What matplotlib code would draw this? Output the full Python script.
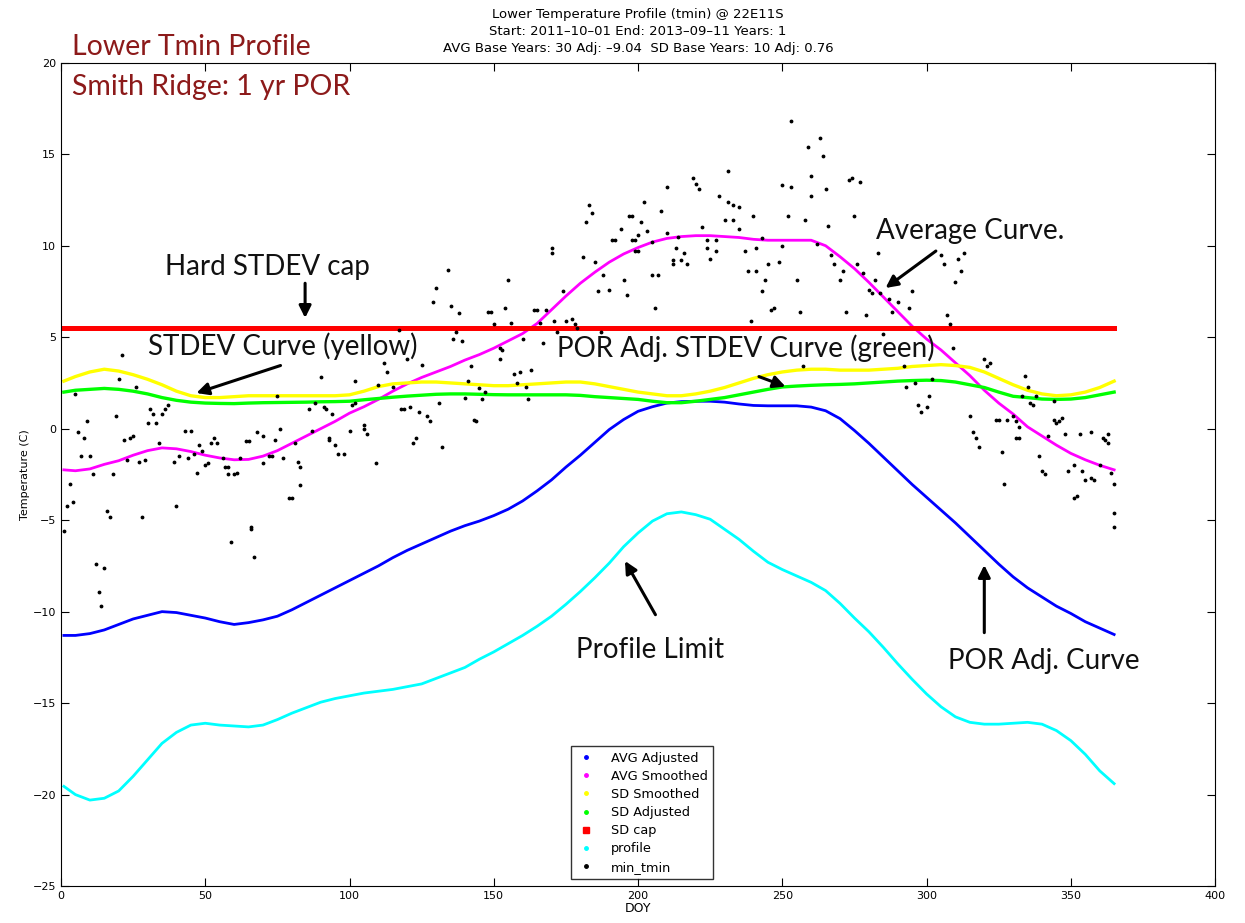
import numpy as np
import matplotlib.pyplot as plt
from matplotlib.lines import Line2D

# 曲线取样点 (DOY)
curve_days = [1, 5, 10, 15, 20, 25, 30, 35, 40, 45,
              50, 55, 60, 65, 70, 75, 80, 85, 90, 95,
              100, 105, 110, 115, 120, 125, 130, 135, 140, 145,
              150, 155, 160, 165, 170, 175, 180, 185, 190, 195,
              200, 205, 210, 215, 220, 225, 230, 235, 240, 245,
              250, 255, 260, 265, 270, 275, 280, 285, 290, 295,
              300, 305, 310, 315, 320, 325, 330, 335, 340, 345,
              350, 355, 360, 365]

profile = [-19.55, -20.0, -20.3, -20.2, -19.8, -19.0, -18.1, -17.2, -16.6, -16.2,
           -16.1, -16.2, -16.25, -16.3, -16.2, -15.9, -15.55, -15.25, -14.95, -14.75,
           -14.6, -14.45, -14.35, -14.25, -14.1, -13.95, -13.65, -13.35, -13.05, -12.6,
           -12.2, -11.75, -11.3, -10.8, -10.25, -9.6, -8.9, -8.15, -7.35, -6.45,
           -5.7, -5.05, -4.65, -4.55, -4.7, -4.95, -5.5, -6.05, -6.7, -7.3,
           -7.7, -8.05, -8.4, -8.85, -9.55, -10.35, -11.1, -11.95, -12.85, -13.7,
           -14.5, -15.2, -15.75, -16.05, -16.15, -16.15, -16.1, -16.05, -16.15, -16.5,
           -17.05, -17.8, -18.7, -19.4]

avg_adjusted = [-11.3, -11.3, -11.2, -11.0, -10.7, -10.4, -10.2, -10.0, -10.05, -10.2,
                -10.35, -10.55, -10.7, -10.6, -10.45, -10.25, -9.9, -9.5, -9.1, -8.7,
                -8.3, -7.9, -7.5, -7.05, -6.65, -6.3, -5.95, -5.6, -5.3, -5.05,
                -4.75, -4.4, -3.95, -3.4, -2.8, -2.1, -1.45, -0.75, -0.05, 0.5,
                0.95, 1.2, 1.4, 1.48, 1.5, 1.5, 1.45, 1.35, 1.27, 1.25,
                1.25, 1.25, 1.18, 0.98, 0.55, -0.1, -0.8, -1.55, -2.3, -3.05,
                -3.75, -4.45, -5.15, -5.9, -6.65, -7.4, -8.1, -8.7, -9.2, -9.7,
                -10.1, -10.55, -10.9, -11.25]

avg_smoothed = [-2.25, -2.3, -2.2, -1.95, -1.75, -1.45, -1.2, -1.05, -1.1, -1.25,
                -1.45, -1.6, -1.7, -1.68, -1.5, -1.2, -0.8, -0.4, 0.0, 0.4,
                0.85, 1.2, 1.6, 2.05, 2.45, 2.8, 3.1, 3.4, 3.75, 4.05,
                4.4, 4.8, 5.2, 5.75, 6.5, 7.25, 7.95, 8.55, 9.1, 9.55,
                9.9, 10.2, 10.4, 10.5, 10.55, 10.55, 10.5, 10.45, 10.35, 10.3,
                10.3, 10.3, 10.3, 10.0, 9.4, 8.75, 8.0, 7.2, 6.4, 5.6,
                4.9, 4.3, 3.6, 2.9, 2.1, 1.4, 0.8, 0.1, -0.4, -0.9,
                -1.35, -1.7, -2.0, -2.25]

sd_smoothed = [2.6, 2.85, 3.1, 3.25, 3.15, 2.95, 2.7, 2.4, 2.05, 1.8,
               1.7, 1.7, 1.75, 1.8, 1.8, 1.8, 1.8, 1.8, 1.8, 1.8,
               1.85, 2.05, 2.3, 2.45, 2.5, 2.55, 2.55, 2.5, 2.45, 2.4,
               2.35, 2.35, 2.4, 2.45, 2.5, 2.55, 2.55, 2.45, 2.3, 2.15,
               2.0, 1.9, 1.8, 1.8, 1.9, 2.05, 2.25, 2.5, 2.75, 2.95,
               3.1, 3.2, 3.25, 3.25, 3.2, 3.2, 3.2, 3.25, 3.3, 3.4,
               3.45, 3.5, 3.45, 3.35, 3.1, 2.75, 2.4, 2.1, 1.9, 1.8,
               1.85, 2.0, 2.25, 2.6]

sd_adjusted = [2.0, 2.1, 2.15, 2.2, 2.15, 2.05, 1.9, 1.7, 1.55, 1.45,
               1.4, 1.38, 1.37, 1.4, 1.42, 1.43, 1.44, 1.45, 1.47, 1.48,
               1.5, 1.58, 1.65, 1.72, 1.78, 1.83, 1.88, 1.9, 1.9, 1.88,
               1.86, 1.85, 1.85, 1.85, 1.85, 1.85, 1.82, 1.75, 1.7, 1.65,
               1.6, 1.5, 1.42, 1.42, 1.5, 1.6, 1.7, 1.85, 2.0, 2.15,
               2.28, 2.33, 2.37, 2.4, 2.42, 2.45, 2.5, 2.55, 2.6, 2.63,
               2.65, 2.63, 2.55, 2.4, 2.25, 2.0, 1.77, 1.7, 1.62, 1.6,
               1.62, 1.7, 1.85, 2.0]

sd_cap = [5.5, 5.5]
cap_days = [1, 365]

# 日最低温度散点 (DOY, tmin)
tmin_points = [
    (1, -5.6), (2, -4.2), (3, -3.0), (4, -4.0), (5, 1.9), (6, -0.2), (7, -1.5), (8, -0.5), (9, 0.4),
    (10, -1.5), (11, -2.5), (12, -7.4), (13, -8.9), (14, -9.7), (15, -7.6), (16, -4.5), (17, -4.8),
    (18, -2.5), (19, 0.7), (20, 2.7), (21, 4.0), (22, -0.6), (23, -1.7), (24, -0.5), (25, -0.4),
    (26, 2.3), (27, -1.8), (28, -4.8), (29, -1.7), (30, 0.3), (31, 1.1), (32, 0.8), (33, 0.3),
    (34, -0.8), (35, 0.8), (36, 1.1), (37, 1.3), (39, -1.8), (40, -4.2), (41, -1.5), (43, -0.1),
    (44, -1.6), (45, -0.1), (46, -1.4), (47, -2.4), (48, -0.9), (49, -1.2), (50, -2.0), (51, -1.9),
    (52, -0.8), (53, -0.5), (54, -0.8), (56, -1.6), (57, -2.1), (58, -2.1), (58, -2.5), (59, -6.2),
    (60, -2.5), (61, -2.4), (62, -1.6), (64, -0.7), (65, -0.7), (66, -5.5), (66, -5.4), (67, -7.0),
    (68, -0.2), (70, -0.4), (70, -1.9), (72, -1.5), (73, -1.5), (74, -0.6), (75, 1.8), (76, 0.0),
    (77, -1.6), (79, -3.8), (80, -3.8), (81, -0.8), (82, -1.8), (83, -2.1), (83, -3.1), (86, 1.1),
    (87, -0.1), (88, 1.4), (90, 2.8), (91, 1.2), (92, 1.1), (93, -0.5), (93, -0.6), (94, 0.8),
    (95, -0.9), (96, -1.4), (98, -1.4), (100, -0.1), (101, 1.3), (102, 1.4), (102, 2.6), (105, 0.2),
    (105, 0.0), (106, -0.3), (109, -1.9), (110, 2.4), (112, 3.6), (113, 3.1), (115, 2.3), (117, 5.4),
    (118, 1.1), (119, 1.1), (120, 3.8), (121, 1.2), (122, -0.8), (123, -0.5), (124, 0.9), (125, 3.5),
    (127, 0.7), (128, 0.4), (129, 6.9), (130, 7.7), (131, 1.4), (132, -1.0), (134, 8.7), (135, 6.7),
    (136, 4.9), (137, 5.3), (138, 6.3), (139, 4.8), (140, 1.7), (141, 2.6), (142, 3.4), (143, 0.5),
    (144, 0.4), (145, 2.2), (146, 1.6), (147, 2.0), (148, 6.4), (149, 6.4), (150, 5.7), (152, 4.4),
    (152, 3.8), (153, 4.3), (154, 6.6), (155, 8.1), (156, 5.8), (157, 3.0), (158, 2.5), (159, 3.1),
    (160, 4.9), (161, 2.3), (162, 1.6), (163, 3.2), (164, 6.5), (165, 6.5), (166, 5.8), (167, 4.7),
    (168, 6.5), (170, 9.9), (170, 9.6), (171, 5.9), (172, 5.3), (174, 7.5), (175, 5.9), (177, 6.0),
    (178, 5.7), (179, 5.5), (181, 9.4), (182, 11.3), (183, 12.2), (184, 11.8), (185, 9.1), (186, 7.5),
    (187, 5.3), (188, 8.4), (190, 7.6), (191, 10.3), (192, 10.3), (194, 10.9), (195, 8.1), (196, 7.3),
    (197, 11.6), (198, 10.3), (198, 11.6), (199, 9.7), (199, 10.3), (200, 9.7), (200, 10.6),
    (201, 11.3), (202, 12.4), (203, 10.8), (205, 10.2), (205, 8.4), (206, 6.6), (207, 8.4),
    (208, 11.9), (210, 13.2), (210, 10.7), (212, 9.0), (212, 9.2), (213, 9.9), (214, 10.5),
    (215, 9.2), (216, 9.6), (217, 9.0), (219, 13.7), (220, 13.4), (221, 13.1), (222, 11.0),
    (224, 10.3), (224, 9.9), (225, 9.3), (227, 10.3), (227, 9.7), (228, 12.7), (230, 11.4),
    (231, 14.1), (231, 12.4), (233, 11.4), (233, 12.2), (235, 12.1), (235, 10.9), (237, 9.7),
    (238, 8.6), (239, 5.9), (240, 11.6), (241, 9.9), (241, 8.6), (243, 10.4), (243, 7.5), (244, 8.1),
    (245, 9.0), (246, 6.5), (247, 6.6), (249, 9.1), (250, 10.0), (250, 13.3), (252, 11.6),
    (253, 16.8), (253, 13.2), (255, 8.1), (256, 6.4), (257, 3.4), (258, 11.4), (259, 15.4),
    (260, 13.8), (260, 12.7), (262, 10.1), (263, 15.9), (264, 14.9), (265, 13.1), (266, 11.1),
    (267, 9.5), (268, 9.0), (270, 8.1), (271, 8.6), (272, 6.4), (273, 13.6), (274, 13.7), (275, 11.6),
    (276, 9.0), (277, 13.5), (278, 8.5), (279, 6.2), (280, 7.6), (281, 7.4), (282, 8.1), (283, 9.6),
    (284, 7.4), (285, 5.2), (287, 7.1), (288, 6.4), (290, 6.9), (292, 3.4), (293, 2.3), (294, 6.6),
    (295, 7.5), (296, 2.5), (297, 1.3), (298, 0.9), (300, 1.2), (301, 1.8), (302, 2.7), (305, 9.5),
    (306, 9.0), (307, 6.2), (308, 5.7), (309, 4.4), (310, 8.0), (311, 9.3), (312, 8.6), (313, 9.6),
    (315, 0.7), (316, -0.2), (317, -0.5), (318, -1.0), (320, 3.8), (321, 3.4), (322, 3.6), (324, 0.5),
    (325, 0.5), (326, -1.3), (327, -3.0), (328, 0.5), (330, 0.7), (331, 0.4), (331, -0.5), (332, -0.5),
    (332, 0.1), (333, 1.8), (334, 2.9), (335, 2.3), (336, 1.4), (337, 1.3), (338, 1.8), (339, -1.5),
    (340, -2.3), (341, -2.5), (342, -0.4), (344, 1.5), (344, 0.5), (345, 0.3), (346, 0.4), (347, 0.6),
    (348, -0.3), (349, -2.3), (351, -3.8), (351, -2.0), (352, -3.7), (353, -0.3), (354, -2.3),
    (355, -2.8), (357, -0.2), (357, -2.7), (358, -2.8), (360, -2.0), (361, -0.5), (362, -0.6),
    (363, -0.8), (363, -0.3), (364, -2.4), (365, -3.0), (365, -4.6), (365, -5.4),
]
tmin_days = [p[0] for p in tmin_points]
tmin_vals = [p[1] for p in tmin_points]

plt.rcParams['font.family'] = ['DejaVu Sans']

fig = plt.figure(figsize=(12.45, 9.23), dpi=100)
ax = fig.add_axes([0.049, 0.04, 0.927, 0.892])

ax.plot(curve_days, avg_adjusted, color='blue', lw=2.0)
ax.plot(curve_days, avg_smoothed, color='magenta', lw=2.0)
ax.plot(curve_days, sd_smoothed, color='yellow', lw=2.4)
ax.plot(curve_days, sd_adjusted, color='lime', lw=2.4)
ax.plot(cap_days, sd_cap, color='red', lw=3.6)
ax.plot(curve_days, profile, color='cyan', lw=2.0)
ax.plot(tmin_days, tmin_vals, ls='none', marker='.', color='black', ms=3.5)

ax.set_xlim(0, 400)
ax.set_ylim(-25, 20)
ax.set_xticks(range(0, 401, 50))
ax.set_yticks(range(-25, 21, 5))
ax.tick_params(direction='in', top=True, right=True, labelsize=8, length=6)
ax.set_xlabel('DOY', fontsize=9, labelpad=1)
ax.set_ylabel('Temperature (C)', fontsize=8, labelpad=2)

ax.set_title('Lower Temperature Profile (tmin) @ 22E11S\n'
             'Start: 2011\u201310\u201301 End: 2013\u201309\u201311 Years: 1\n'
             'AVG Base Years: 30 Adj: \u20139.04  SD Base Years: 10 Adj: 0.76',
             fontsize=9.5, linespacing=1.4, pad=8)

labels = ['AVG Adjusted', 'AVG Smoothed', 'SD Smoothed', 'SD Adjusted', 'SD cap', 'profile', 'min_tmin']
colors = ['blue', 'magenta', 'yellow', 'lime', 'red', 'cyan', 'black']
handles = [Line2D([], [], ls='none', marker='s' if c == 'red' else '.', ms=4 if c == 'red' else 5, color=c)
           for c in colors]
leg = ax.legend(handles, labels, loc='lower left', bbox_to_anchor=(0.436, 0.001), fontsize=9.3,
                frameon=True, fancybox=False, edgecolor='black', handlelength=1.5,
                labelspacing=0.4, borderpad=0.4, handletextpad=1.2)
leg.get_frame().set_linewidth(1.0)

# 注释文字和箭头
ann_font = dict(family=['Lato', 'DejaVu Sans'], fontsize=20, color='#111111')
arrow = dict(arrowstyle='-|>', color='black', lw=2.2, mutation_scale=18)

ax.text(71.7, 8.85, 'Hard STDEV cap', ha='center', va='center', **ann_font)
ax.annotate('', xy=(84.6, 5.9), xytext=(84.6, 8.1), arrowprops=arrow)

ax.text(30, 4.5, 'STDEV Curve (yellow)', ha='left', va='center', **ann_font)
ax.annotate('', xy=(46, 1.9), xytext=(77, 3.5), arrowprops=arrow)

ax.text(172, 4.4, 'POR Adj. STDEV Curve (green)', ha='left', va='center', **ann_font)
ax.annotate('', xy=(252, 2.25), xytext=(241, 2.9), arrowprops=arrow)

ax.text(282.5, 10.8, 'Average Curve.', ha='left', va='center', **ann_font)
ax.annotate('', xy=(285, 7.6), xytext=(304, 9.8), arrowprops=arrow)

ax.text(178.5, -12.1, 'Profile Limit', ha='left', va='center', **ann_font)
ax.annotate('', xy=(195, -7.1), xytext=(206.5, -10.3), arrowprops=arrow)

ax.text(307.5, -12.7, 'POR Adj. Curve', ha='left', va='center', **ann_font)
ax.annotate('', xy=(320, -7.3), xytext=(320, -11.3), arrowprops=arrow)

fig.text(0.058, 0.949, 'Lower Tmin Profile', fontsize=20.5, color='#8c1a1a',
         family=['Lato', 'DejaVu Sans'], va='center')
fig.text(0.058, 0.906, 'Smith Ridge: 1 yr POR', fontsize=20.5, color='#8c1a1a',
         family=['Lato', 'DejaVu Sans'], va='center')

fig.savefig('out.png', dpi=100)
